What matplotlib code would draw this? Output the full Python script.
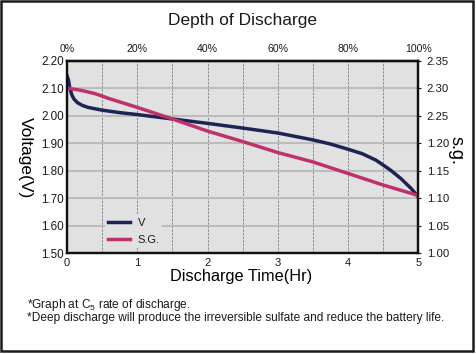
import matplotlib

matplotlib.use("Agg")
import matplotlib.pyplot as plt  # noqa: E402
from matplotlib.patches import Rectangle  # noqa: E402
from matplotlib.ticker import MultipleLocator  # noqa: E402

# voltage curve (hours, volts)
v_time = [0.0, 0.02, 0.04, 0.07, 0.1, 0.15, 0.22, 0.3, 0.5, 0.75, 1.0, 1.5,
          2.0, 2.5, 3.0, 3.5, 3.75, 4.0, 4.2, 4.4, 4.6, 4.75, 4.9, 5.0]
v_volt = [2.145, 2.13, 2.10, 2.075, 2.06, 2.047, 2.037, 2.03, 2.02, 2.011, 2.004, 1.988,
          1.972, 1.955, 1.937, 1.912, 1.897, 1.878, 1.862, 1.838, 1.803, 1.772, 1.735, 1.705]
# specific gravity curve (hours, s.g.)
sg_time = [0.0, 0.2, 0.4, 0.6, 1.0, 1.5, 2.0, 2.5, 3.0, 3.5, 4.0, 4.5, 5.0]
sg_val = [1.300, 1.296, 1.290, 1.281, 1.265, 1.244, 1.222, 1.203, 1.183, 1.166, 1.145, 1.124, 1.105]

volt_ticks = [1.50, 1.60, 1.70, 1.80, 1.90, 2.00, 2.10, 2.20]
sg_ticks = [1.00, 1.05, 1.10, 1.15, 1.20, 1.25, 1.30, 1.35]
sg_labels = ["1.00", "1.05", "1.10", "1.15", "1.20", "2.25", "2.30", "2.35"]  # as printed
hour_ticks = [0, 1, 2, 3, 4, 5]
pct_ticks = [0, 20, 40, 60, 80, 100]

NAVY, MAGENTA, BG = "#1d2353", "#c0306b", "#e1e1e1"
W, H = 476, 354

plt.rcParams.update({
    "font.family": ["Liberation Sans", "DejaVu Sans"],
    "mathtext.fontset": "custom", "mathtext.rm": "Liberation Sans",
    "text.color": "#1a1a1a", "xtick.color": "#1a1a1a", "ytick.color": "#1a1a1a",
})

fig = plt.figure(figsize=(W / 100, H / 100), dpi=100)
x0, x1, ytop, ybot = 67, 418.3, 60.6, 253.3
ax = fig.add_axes([x0 / W, 1 - ybot / H, (x1 - x0) / W, (ybot - ytop) / H])
ax.set_facecolor(BG)
ax.set_xlim(0, 5)
ax.set_ylim(1.50, 2.20)

lv, = ax.plot(v_time, v_volt, color=NAVY, lw=2.5, zorder=3, label="V")
ax.set_xticks(hour_ticks)
ax.set_xticklabels([str(h) for h in hour_ticks], fontsize=8)
ax.xaxis.set_minor_locator(MultipleLocator(0.5))
ax.set_yticks(volt_ticks)
ax.set_yticklabels([f"{v:.2f}" for v in volt_ticks], fontsize=8.4)
ax.tick_params(axis="both", which="both", length=0)
ax.tick_params(axis="x", pad=3.5)
ax.tick_params(axis="y", pad=2.2)
ax.xaxis.grid(True, which="both", color="#8c8c8c", lw=0.7, ls=(0, (2.5, 1.2)))
ax.yaxis.grid(True, color="#bcbcbc", lw=1.5)
ax.set_axisbelow(True)
for s in ax.spines.values():
    s.set_linewidth(1.6)
    s.set_color("#111111")

ax2 = ax.twinx()
ax2.set_ylim(1.00, 1.35)
ls, = ax2.plot(sg_time, sg_val, color=MAGENTA, lw=2.5, zorder=2, label="S.G.")
ax2.set_yticks(sg_ticks)
ax2.set_yticklabels(sg_labels, fontsize=8.2)
ax2.tick_params(axis="y", length=2, width=0.8, pad=4)
for s in ax2.spines.values():
    s.set_linewidth(1.6)
    s.set_color("#111111")

top = ax.secondary_xaxis("top", functions=(lambda t: t * 20, lambda p: p / 20))
top.set_xticks(pct_ticks)
top.set_xticklabels([f"{p}%" for p in pct_ticks], fontsize=7.6)
top.tick_params(length=0, pad=4.5)
top.spines["top"].set_linewidth(1.6)

leg = ax2.legend(handles=[lv, ls], loc="lower left", bbox_to_anchor=(0.108, 0.03),
                 fontsize=8, frameon=True, facecolor=BG, edgecolor="none", framealpha=1,
                 handlelength=2.0, handletextpad=0.7, labelspacing=0.65,
                 borderpad=0.25, borderaxespad=0)
leg.get_frame().set_boxstyle("square", pad=0)

ax.set_xlabel("Discharge Time(Hr)", fontsize=11.7)
ax.xaxis.set_label_coords((241 - x0) / (x1 - x0), (ybot - 277) / (ybot - ytop))
ax.xaxis.label.set_va("center")
ax.set_ylabel("Voltage(V)", fontsize=12.5, rotation=-90, va="center", ha="center")
ax.yaxis.set_label_coords((25 - x0) / (x1 - x0), (ybot - 158) / (ybot - ytop))
ax2.set_ylabel("s.g.", fontsize=13, rotation=-90, va="center", ha="center")
ax2.yaxis.set_label_coords((456 - x0) / (x1 - x0), (ybot - 150) / (ybot - ytop))

fig.text(243 / W, 1 - 20 / H, "Depth of Discharge", fontsize=12.5, ha="center", va="center")
fig.text(27 / W, 1 - 305 / H, r"*Graph at C$_\mathrm{5}$ rate of discharge.",
         fontsize=8.6, ha="left", va="center")
fig.text(27 / W, 1 - 318 / H,
         "*Deep discharge will produce the irreversible sulfate and reduce the battery life.",
         fontsize=8.6, ha="left", va="center")

# outer frame
fig.patches.append(Rectangle((1.25 / W, 1 - 350.75 / H), 471.5 / W, 349.5 / H,
                             transform=fig.transFigure, fill=False,
                             lw=1.8, edgecolor="#1a1a1a"))

fig.savefig("out.png", dpi=100)
